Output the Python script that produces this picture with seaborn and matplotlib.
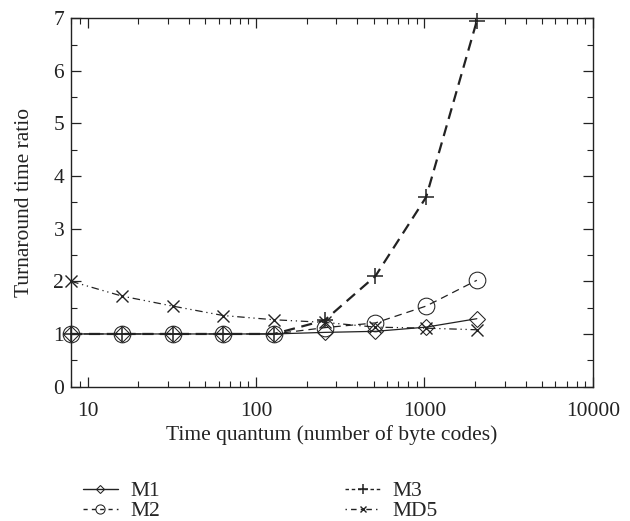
import matplotlib
matplotlib.use("Agg")
import matplotlib.pyplot as plt
import seaborn as sns
import pandas as pd
import numpy as np
from matplotlib.ticker import MultipleLocator, LogLocator, NullFormatter, FixedLocator, FixedFormatter

quantum = [8, 16, 32, 64, 128, 256, 512, 1024, 2048]
m1 = [1.0, 1.0, 1.0, 1.0, 1.0, 1.03, 1.05, 1.13, 1.29]
m2 = [1.0, 1.0, 1.0, 1.0, 1.0, 1.12, 1.21, 1.53, 2.02]
m3 = [1.0, 1.0, 1.0, 1.0, 1.0, 1.26, 2.1, 3.6, 6.95]
md5 = [2.0, 1.72, 1.53, 1.35, 1.27, 1.22, 1.13, 1.11, 1.08]

series_names = ["M1", "M2", "M3", "MD5"]
series_vals = [m1, m2, m3, md5]

sns.set_theme(style="ticks")
plt.rcParams["font.family"] = ["Liberation Serif", "DejaVu Serif"]

FS = 15.5
fig = plt.figure(figsize=(6.3, 5.21), dpi=100)
ax = fig.add_axes([0.113, 0.258, 0.828, 0.707])

styles = {
    "M1": dict(linestyle="-", marker="D", markersize=8, linewidth=0.9),
    "M2": dict(linestyle=(0, (6, 4)), marker="o", markersize=12, linewidth=0.9),
    "M3": dict(linestyle=(0, (5, 3)), marker="+", markersize=12, linewidth=1.6, markeredgewidth=1.1),
    "MD5": dict(linestyle=(0, (6, 3, 1, 3, 1, 3)), marker="x", markersize=9, linewidth=0.9, markeredgewidth=1.0),
}
legend_dashes = {"M1": None, "M2": (3, 3), "M3": (2.5, 2), "MD5": (1, 3, 4, 3)}

for name, vals in zip(series_names, series_vals):
    df = pd.DataFrame({"q": quantum, "v": vals})
    st = styles[name]
    sns.lineplot(data=df, x="q", y="v", ax=ax, color="#222222", label=name,
                 markerfacecolor="none", markeredgecolor="#222222",
                 clip_on=False, **st)

ax.set_xscale("log")
ax.set_xlim(8, 10000)
ax.set_ylim(0, 7)
ax.xaxis.set_major_locator(FixedLocator([10, 100, 1000, 10000]))
ax.xaxis.set_major_formatter(FixedFormatter(["10", "100", "1000", "10000"]))
ax.xaxis.set_minor_locator(LogLocator(base=10, subs=np.arange(2, 10)))
ax.xaxis.set_minor_formatter(NullFormatter())
ax.yaxis.set_major_locator(MultipleLocator(1))
ax.yaxis.set_minor_locator(MultipleLocator(0.5))

ax.tick_params(which="both", direction="in", top=True, right=True, colors="#222222", labelsize=FS)
ax.tick_params(axis="x", pad=11)
ax.tick_params(axis="y", pad=5)
ax.tick_params(which="major", length=7, width=0.9)
ax.tick_params(which="minor", length=4, width=0.8)
for sp in ax.spines.values():
    sp.set_visible(True)
    sp.set_color("#222222")
    sp.set_linewidth(1.0)

ax.set_xlabel("Time quantum (number of byte codes)", fontsize=FS, color="#222222", labelpad=3)
ax.set_ylabel("Turnaround time ratio", fontsize=FS, color="#222222", labelpad=14)

handles, labels = ax.get_legend_handles_labels()
ax.get_legend().remove()
leg = fig.legend(handles, labels,
                 loc="upper left", bbox_to_anchor=(0.125, 0.085), ncol=2,
                 frameon=False, fontsize=FS, handlelength=1.6, columnspacing=8.6,
                 labelspacing=0.0, handletextpad=0.6, markerscale=0.55,
                 borderaxespad=0.0, borderpad=0.2)
for line, name in zip(leg.get_lines(), labels):
    d = legend_dashes[name]
    if d is not None:
        line.set_dashes(d)
    line.set_linewidth(1.0)

fig.savefig("out.png", dpi=100)
